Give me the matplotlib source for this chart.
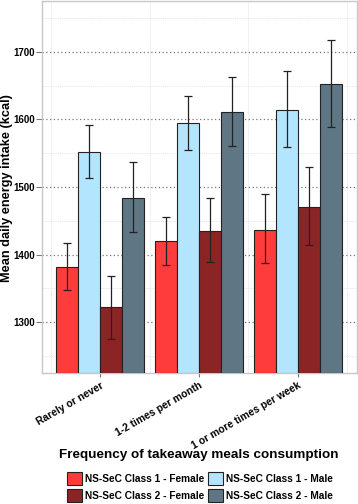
import numpy as np
import matplotlib
matplotlib.use("Agg")
import matplotlib.pyplot as plt

plt.rcParams['font.family'] = ['Liberation Sans', 'DejaVu Sans']
plt.rcParams['font.weight'] = 'bold'

groups = ["Rarely or never", "1-2 times per month", "1 or more times per week"]
series = ["NS-SeC Class 1 - Female", "NS-SeC Class 1 - Male",
          "NS-SeC Class 2 - Female", "NS-SeC Class 2 - Male"]
colors = ["#FF3C3C", "#B3E5FF", "#8B2525", "#5F7685"]

f1_mean = [1382, 1420, 1437]
m1_mean = [1552, 1594, 1614]
f2_mean = [1322, 1435, 1471]
m2_mean = [1484, 1611, 1652]

f1_lo = [1348, 1384, 1387]
f1_hi = [1417, 1455, 1490]
m1_lo = [1514, 1554, 1559]
m1_hi = [1591, 1634, 1671]
f2_lo = [1276, 1389, 1414]
f2_hi = [1368, 1483, 1530]
m2_lo = [1433, 1561, 1589]
m2_hi = [1537, 1663, 1717]

means = [f1_mean, m1_mean, f2_mean, m2_mean]
lows = [f1_lo, m1_lo, f2_lo, m2_lo]
highs = [f1_hi, m1_hi, f2_hi, m2_hi]

fig = plt.figure(figsize=(3.58, 5.04), dpi=100)
ax = fig.add_axes([42/358, 1 - 373/504, 315/358, 372/504])

ymin, ymax = 1225, 1775
x = np.arange(1, len(groups) + 1)
w = 0.222
handles = []
for i in range(4):
    pos = x + (i - 1.5) * w
    m = np.array(means[i])
    b = ax.bar(pos, m - ymin, bottom=ymin, width=w, color=colors[i],
               edgecolor="#222222", linewidth=0.8, zorder=3, label=series[i])
    handles.append(b)
    lo = np.array(lows[i])
    hi = np.array(highs[i])
    ax.errorbar(pos, m, yerr=[m - lo, hi - m], fmt="none", ecolor="#222222",
                elinewidth=0.9, capsize=2.7, capthick=0.9, zorder=4)

ax.set_xlim(0.41, 3.6)
ax.set_ylim(ymin, ymax)
ax.set_yticks([1300, 1400, 1500, 1600, 1700])
ax.set_yticks(np.arange(1250, 1776, 100), minor=True)
ax.set_xticks(x)
ax.set_xticks([0.5, 1.5, 2.5, 3.5], minor=True)
ax.grid(which="major", axis="y", color="#777777", linestyle=(0, (1, 2)), linewidth=0.9, zorder=0)
ax.grid(which="minor", color="#e4e4e4", linestyle=(0, (1, 1)), linewidth=0.7, zorder=0)
ax.tick_params(axis="y", which="major", length=4, color="#777777", labelsize=7, pad=1)
ax.tick_params(axis="x", which="major", length=3, color="#777777", labelsize=7.4, pad=2.5)
ax.tick_params(which="minor", length=0)
ax.set_xticklabels(groups, rotation=30, ha="right", rotation_mode="anchor")
for s in ax.spines.values():
    s.set_color("#c8c8c8")
    s.set_linewidth(1.0)

fig.text(7.5/358, 1 - 188/504, "Mean daily energy intake (kcal)", rotation=90,
         ha="center", va="center", fontsize=9.2, fontweight="bold")
fig.text(199/358, 1 - 455/504, "Frequency of takeaway meals consumption",
         ha="center", va="center", fontsize=9.7, fontweight="bold")

fig.legend([handles[0], handles[2], handles[1], handles[3]],
           [series[0], series[2], series[1], series[3]],
           loc="center", bbox_to_anchor=(200/358, 1 - 487/504), ncol=2,
           frameon=False, fontsize=7.3, handlelength=1.5, handleheight=1.6,
           handletextpad=0.3, columnspacing=0.3, labelspacing=0.35, borderpad=0)

fig.savefig("out.png", dpi=100)
